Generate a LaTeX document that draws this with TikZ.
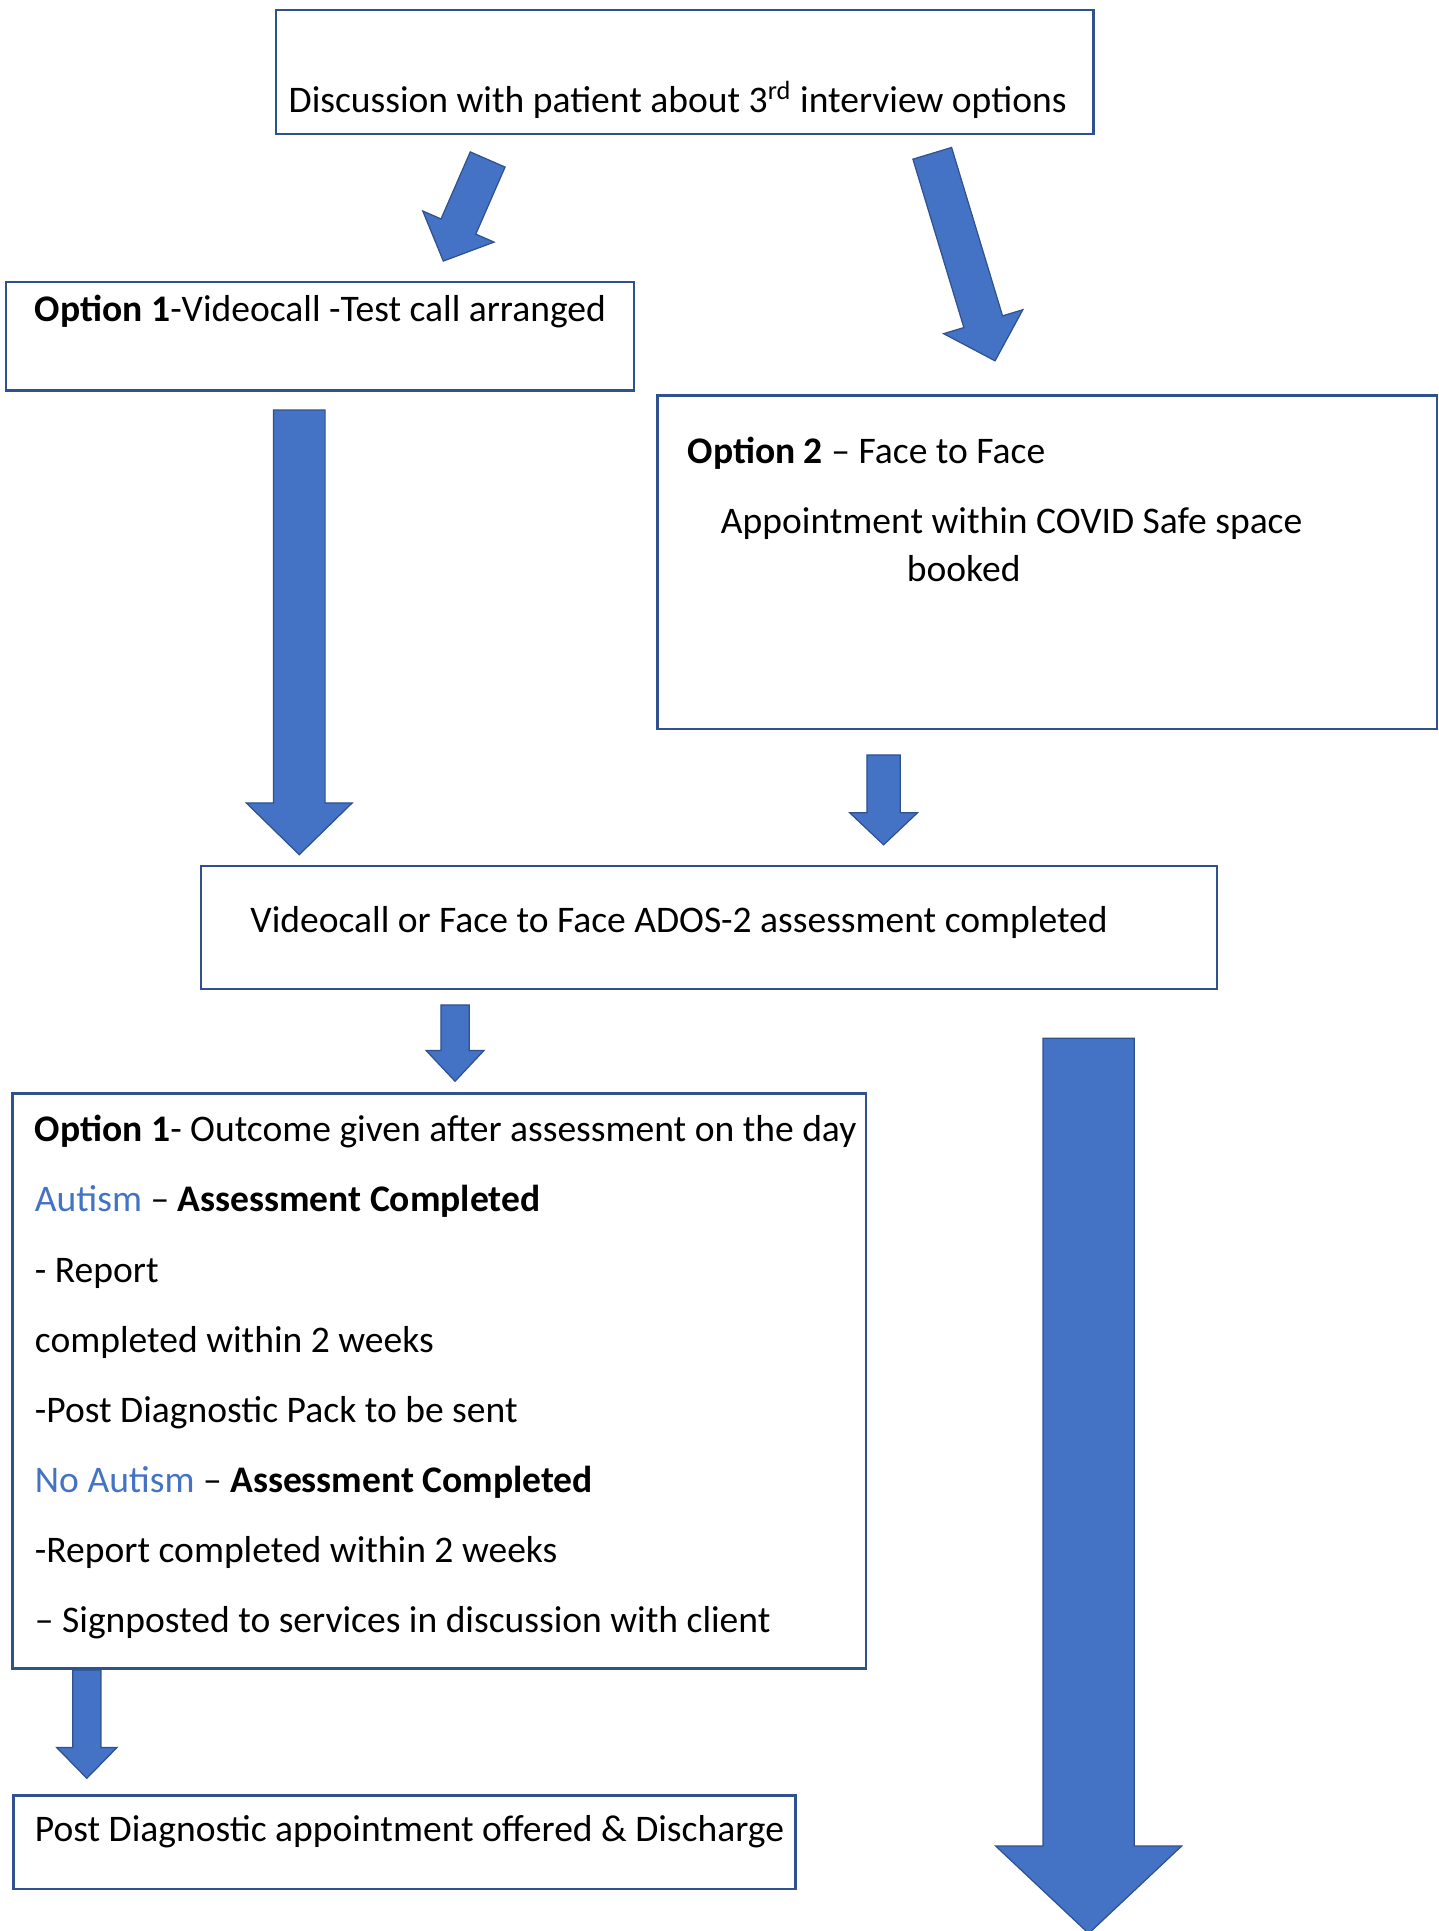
\documentclass[tikz,border=0pt]{standalone}
\usepackage{fontspec}
\setmainfont{Carlito}
\usetikzlibrary{calc,fit}

\definecolor{arrowblue}{HTML}{4472C4}
\definecolor{arrowedge}{HTML}{2F528F}
\definecolor{boxline}{HTML}{2F528F}

\tikzset{
    box/.style = {draw = boxline, line width = 1pt, inner sep = 0pt},
    txt/.style = {anchor = base west, inner sep = 0pt, font = \fontsize{15.25}{18}\selectfont},
    blockfill/.style = {fill = arrowblue, draw = arrowedge, line width = 0.5pt, line join = miter}
}

% start, end, shaft half width, head half width, head length
\newcommand{\blockarrow}[5]{%
    \coordinate (ba-n) at ($(#2)!#5!(#1)$);
    \filldraw[blockfill]
        ($(#1)!#3!90:(#2)$) -- ($(ba-n)!#3!90:(#2)$) -- ($(ba-n)!#4!90:(#2)$)
        -- (#2)
        -- ($(ba-n)!#4!-90:(#2)$) -- ($(ba-n)!#3!-90:(#2)$) -- ($(#1)!#3!-90:(#2)$)
        -- cycle;
}

\begin{document}
\begin{tikzpicture}[x = 0.5pt, y = -0.5pt]
    \useasboundingbox (0, 0) rectangle (1168, 1568);

    \node [box, fit = {(224, 8) (888, 109)}] (discuss) {};
    \node [txt] (discuss-t) at (234, 91) {Discussion with patient about 3\textsuperscript{rd} interview options};

    \node [box, fit = {(5, 229) (515, 317)}] (opt1) {};
    \node [txt] (opt1-t) at (28, 261) {\textbf{Option 1}-Videocall -Test call arranged};

    \node [box, fit = {(534, 321) (1167, 592)}] (opt2) {};
    \node [txt] (opt2-t) at (558, 376) {\textbf{Option 2} -- Face to Face};
    \node [txt] (opt2-a) at (585, 433) {Appointment within COVID Safe space};
    \node [txt] (opt2-b) at (736, 472) {booked};

    \node [box, fit = {(163, 703) (988, 803)}] (assess) {};
    \node [txt] (assess-t) at (203, 757) {Videocall or Face to Face ADOS-2 assessment completed};

    \node [box, fit = {(10, 888) (703, 1355)}] (outcome) {};
    \foreach \line [count = \i from 0] in {
        {\textbf{Option 1}- Outcome given after assessment on the day},
        {\textcolor{arrowblue}{Autism} -- \textbf{Assessment Completed}},
        {- Report},
        {completed within 2 weeks},
        {-Post Diagnostic Pack to be sent},
        {\textcolor{arrowblue}{No Autism} -- \textbf{Assessment Completed}},
        {-Report completed within 2 weeks},
        {-- Signposted to services in discussion with client}}
        \node [txt] (outcome-\i) at (28, {927 + 57*\i}) {\line};

    \node [box, fit = {(11, 1458) (646, 1534)}] (postdiag) {};
    \node [txt] (postdiag-t) at (28, 1495) {Post Diagnostic appointment offered \& Discharge};

    \coordinate (a1s) at (396, 129.5);
    \coordinate (a1e) at (360, 212);
    \coordinate (a2s) at (757, 124.5);
    \coordinate (a2e) at (808, 293);
    \coordinate (a3s) at (243, 333);
    \coordinate (a3e) at (243, 694);
    \coordinate (a4s) at (717.5, 613);
    \coordinate (a4e) at (717.5, 686);
    \coordinate (a5s) at (369.5, 816);
    \coordinate (a5e) at (369.5, 878);
    \coordinate (a6s) at (884, 843);
    \coordinate (a6e) at (884, 1570);
    \coordinate (a7s) at (70.5, 1356);
    \coordinate (a7e) at (70.5, 1444);

    \blockarrow{a1s}{a1e}{7.7pt}{15.8pt}{15.3pt}
    \blockarrow{a2s}{a2e}{8.2pt}{16.8pt}{16.6pt}
    \blockarrow{a3s}{a3e}{10.5pt}{21.5pt}{21pt}
    \blockarrow{a4s}{a4e}{6.75pt}{13.75pt}{13pt}
    \blockarrow{a5s}{a5e}{5.75pt}{11.75pt}{12.5pt}
    \blockarrow{a6s}{a6e}{18.5pt}{37.75pt}{35.5pt}
    \blockarrow{a7s}{a7e}{5.75pt}{12.25pt}{12.5pt}
\end{tikzpicture}
\end{document}
